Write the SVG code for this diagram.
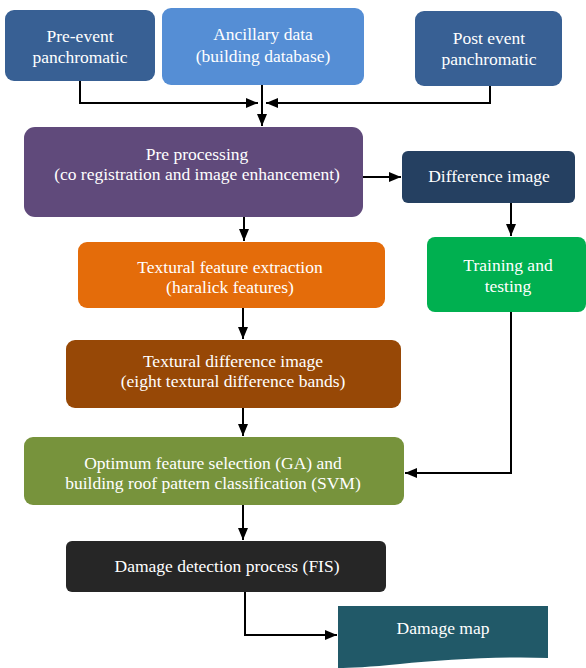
<svg xmlns="http://www.w3.org/2000/svg" width="586" height="668" viewBox="0 0 586 668">
<defs>
<style>
.c{fill:none;stroke:#000;stroke-width:2}
.t{font-family:'Liberation Serif','Times New Roman',serif;font-size:17.5px;fill:#ffffff;text-anchor:middle}
</style>
<marker id="ah" markerWidth="12" markerHeight="10" refX="12" refY="5" orient="auto" markerUnits="userSpaceOnUse">
<path d="M0,0 L12,5 L0,10 Z" fill="#000"/>
</marker>
</defs>
<rect width="586" height="668" fill="#fff"/>
<g id="connectors">
<path class="c" d="M80,81 V103 H258" marker-end="url(#ah)"/>
<path class="c" d="M490,86 V103 H266" marker-end="url(#ah)"/>
<path class="c" d="M262,85 V126" marker-end="url(#ah)"/>
<path class="c" d="M363,177 H401" marker-end="url(#ah)"/>
<path class="c" d="M511,203 V236" marker-end="url(#ah)"/>
<path class="c" d="M511,312 V473 H405" marker-end="url(#ah)"/>
<path class="c" d="M244,217 V241" marker-end="url(#ah)"/>
<path class="c" d="M243,308 V339" marker-end="url(#ah)"/>
<path class="c" d="M243,408 V436" marker-end="url(#ah)"/>
<path class="c" d="M243,505 V540" marker-end="url(#ah)"/>
<path class="c" d="M245,592 V635 H337" marker-end="url(#ah)"/>
</g>
<g id="pre-event">
<rect x="5" y="10" width="150" height="71" rx="9" fill="#386094"/>
<text class="t" x="80" y="42">Pre-event</text>
<text class="t" x="80" y="63">panchromatic</text>
</g>
<g id="ancillary">
<rect x="162" y="8" width="202" height="77" rx="9" fill="#558ED5"/>
<text class="t" x="263" y="40">Ancillary data</text>
<text class="t" x="263" y="62">(building database)</text>
</g>
<g id="post-event">
<rect x="415" y="11" width="147" height="75" rx="9" fill="#386094"/>
<text class="t" x="489" y="44">Post event</text>
<text class="t" x="489" y="65">panchromatic</text>
</g>
<g id="preprocessing">
<rect x="24" y="127" width="339" height="90" rx="11" fill="#604A7B"/>
<text class="t" x="197" y="160">Pre processing</text>
<text class="t" x="197" y="180">(co registration and image enhancement)</text>
</g>
<g id="difference">
<rect x="402" y="151" width="173" height="52" rx="6" fill="#254061"/>
<text class="t" x="489" y="182">Difference image</text>
</g>
<g id="training">
<rect x="427" y="237" width="159" height="75" rx="8" fill="#00B050"/>
<text class="t" x="508" y="271">Training and</text>
<text class="t" x="508" y="292">testing</text>
</g>
<g id="textural-feature">
<rect x="78" y="242" width="307" height="66" rx="9" fill="#E46C0A"/>
<text class="t" x="230" y="273">Textural feature extraction</text>
<text class="t" x="230" y="293">(haralick features)</text>
</g>
<g id="textural-difference">
<rect x="66" y="340" width="335" height="68" rx="9" fill="#974806"/>
<text class="t" x="233" y="367">Textural difference image</text>
<text class="t" x="233" y="387">(eight textural difference bands)</text>
</g>
<g id="optimum">
<rect x="24" y="437" width="380" height="68" rx="9" fill="#77933C"/>
<text class="t" x="213" y="469">Optimum feature selection (GA)  and</text>
<text class="t" x="213" y="489">building roof pattern classification (SVM)</text>
</g>
<g id="damage-detection">
<rect x="66" y="541" width="320" height="51" rx="6" fill="#262626"/>
<text class="t" x="227" y="572">Damage detection process (FIS)</text>
</g>
<g id="damage-map">
<path d="M338,606 H548 V658 C500,656 440,660 400,664 C370,667 350,668 338,668 Z" fill="#215968"/>
<text class="t" x="443" y="634">Damage map</text>
</g>
</svg>
